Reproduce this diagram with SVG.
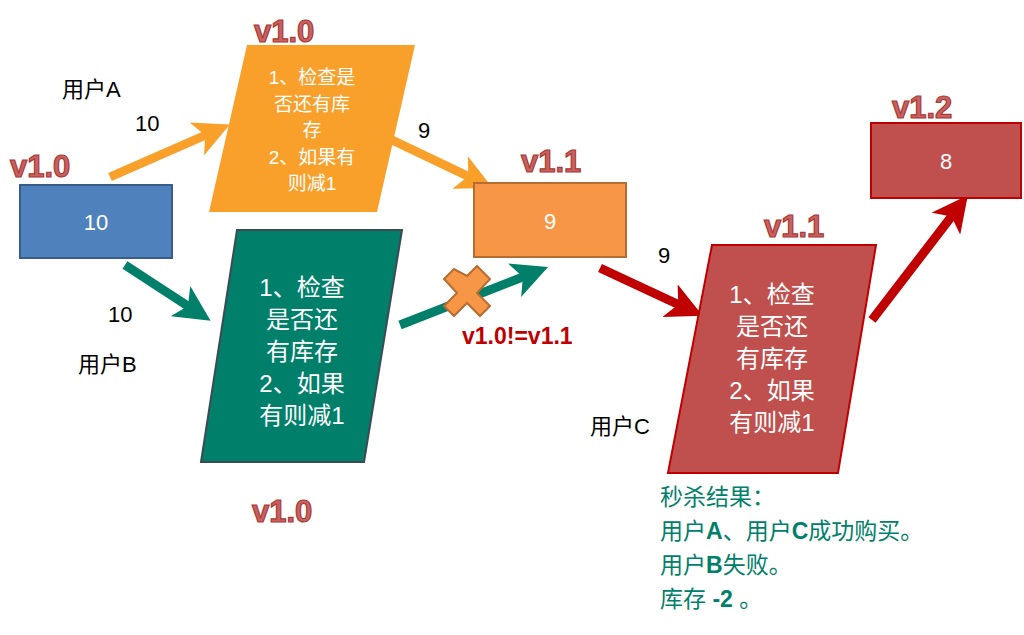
<svg xmlns="http://www.w3.org/2000/svg" width="1024" height="635" viewBox="0 0 1024 635">
<style>
text{font-family:"Liberation Sans","Noto Sans CJK SC",sans-serif}
.v{font-weight:bold;font-size:31px;fill:#c9625f;stroke:#a83a37;stroke-width:1.2}
.k{font-size:22px;fill:#000}
.w{fill:#fff;font-size:22px;text-anchor:middle}
.a{stroke-width:9;fill:none}
.g{fill:#00806a;font-size:23px}
</style>
<defs>
<marker id="mo" markerWidth="4" markerHeight="4" refX="2.2" refY="2" orient="auto" markerUnits="strokeWidth" viewBox="0 0 4 4"><path d="M0,0 L4,2 L0,4 L1,2Z" fill="#f9a02b"/></marker>
<marker id="mg" markerWidth="4" markerHeight="4" refX="2.2" refY="2" orient="auto" markerUnits="strokeWidth" viewBox="0 0 4 4"><path d="M0,0 L4,2 L0,4 L1,2Z" fill="#00806a"/></marker>
<marker id="mr" markerWidth="4" markerHeight="4" refX="2.2" refY="2" orient="auto" markerUnits="strokeWidth" viewBox="0 0 4 4"><path d="M0,0 L4,2 L0,4 L1,2Z" fill="#c00000"/></marker>
</defs>
<rect width="1024" height="635" fill="#fff"/>
<g id="connectors">
<line class="a" x1="110" y1="177" x2="215" y2="131" stroke="#f9a02b" marker-end="url(#mo)"/>
<line class="a" x1="392" y1="140" x2="478" y2="181" stroke="#f9a02b" marker-end="url(#mo)"/>
<line class="a" x1="125" y1="265" x2="197" y2="312" stroke="#00806a" marker-end="url(#mg)"/>
<line class="a" x1="400" y1="325" x2="533" y2="273" stroke="#00806a" marker-end="url(#mg)"/>
<line class="a" x1="600" y1="268" x2="688" y2="309" stroke="#c00000" marker-end="url(#mr)"/>
<line class="a" x1="872" y1="320" x2="958" y2="208" stroke="#c00000" marker-end="url(#mr)"/>
</g>
<g id="cross"><path d="M467,276 l10,-10 l13,13 l-13,14 l13,13 l-10,10 l-13,-13 l-13,13 l-10,-10 l13,-13 l-13,-14 l10,-10z" fill="#f79646" stroke="#b66d31" stroke-width="2"/></g>
<g id="n-blue"><rect x="20" y="185" width="152" height="73" fill="#4f81bd" stroke="#385d8a" stroke-width="2"/><text class="w" x="96" y="230">10</text></g>
<g id="n-orange"><polygon points="247,45 415,45 377,212 209,212" fill="#f9a02b"/>
<text class="w"><tspan x="312" y="84" font-size="19">1、检查是</tspan><tspan x="312" y="111" font-size="19">否还有库</tspan><tspan x="312" y="137" font-size="19">存</tspan><tspan x="312" y="164" font-size="19">2、如果有</tspan><tspan x="312" y="190" font-size="19">则减1</tspan></text></g>
<g id="n-green"><polygon points="237,230 402,230 364,462 201,462" fill="#00806a" stroke="#3b4a55" stroke-width="2"/>
<text class="w" style="font-size:24px"><tspan x="302" y="296">1、检查</tspan><tspan x="302" y="328">是否还</tspan><tspan x="302" y="360">有库存</tspan><tspan x="302" y="392">2、如果</tspan><tspan x="302" y="424">有则减1</tspan></text></g>
<g id="n-9"><rect x="474" y="183" width="152" height="74" fill="#f79646" stroke="#b66d31" stroke-width="2"/><text class="w" x="550" y="229">9</text></g>
<g id="n-red"><polygon points="712,245 876,245 838,473 668,473" fill="#c0504d" stroke="#c00000" stroke-width="2"/>
<text class="w" style="font-size:24px"><tspan x="772" y="303">1、检查</tspan><tspan x="772" y="335">是否还</tspan><tspan x="772" y="367">有库存</tspan><tspan x="772" y="399">2、如果</tspan><tspan x="772" y="431">有则减1</tspan></text></g>
<g id="n-8"><rect x="871" y="123" width="150" height="75" fill="#c0504d" stroke="#c00000" stroke-width="2"/><text class="w" x="946" y="169">8</text></g>
<g id="labels">
<text class="v" x="254" y="42">v1.0</text>
<text class="v" x="10" y="177">v1.0</text>
<text class="v" x="521" y="172">v1.1</text>
<text class="v" x="764" y="237">v1.1</text>
<text class="v" x="892" y="118">v1.2</text>
<text class="v" x="252" y="522">v1.0</text>
<text class="k" x="62" y="97">用户A</text>
<text class="k" x="135" y="131">10</text>
<text class="k" x="418" y="138">9</text>
<text class="k" x="108" y="322">10</text>
<text class="k" x="78" y="372">用户B</text>
<text class="k" x="658" y="263">9</text>
<text class="k" x="590" y="434">用户C</text>
<text x="462" y="344" font-size="23" font-weight="bold" fill="#c00000">v1.0!=v1.1</text>
<text class="g"><tspan x="660" y="505">秒杀结果：</tspan><tspan x="660" y="539">用户<tspan font-weight="bold">A</tspan>、用户<tspan font-weight="bold">C</tspan>成功购买。</tspan><tspan x="660" y="573">用户<tspan font-weight="bold">B</tspan>失败。</tspan><tspan x="660" y="607">库存 <tspan font-weight="bold">-2</tspan> 。</tspan></text>
</g>
</svg>
